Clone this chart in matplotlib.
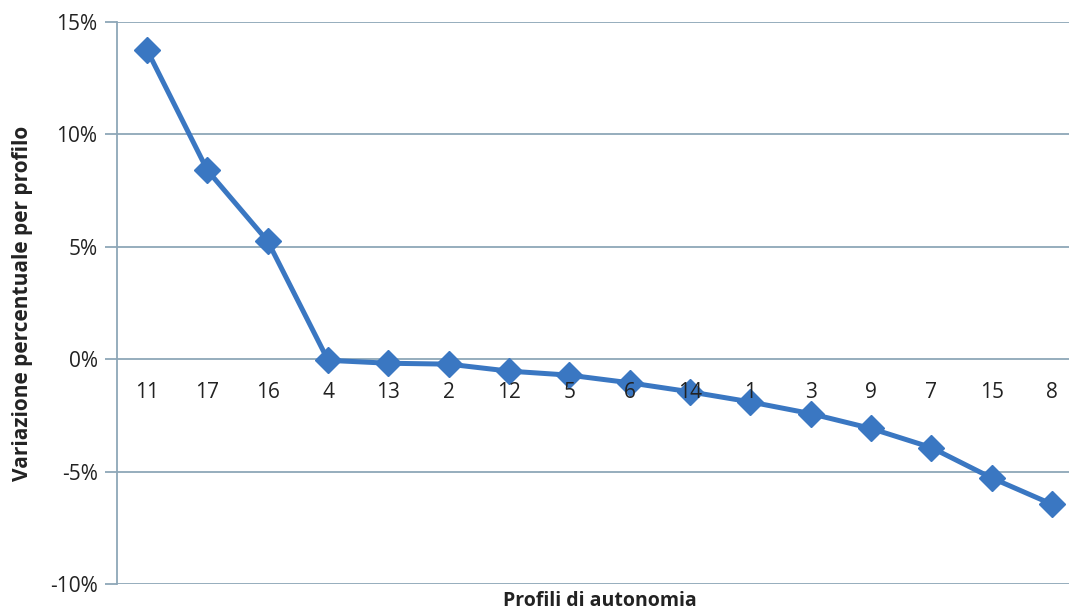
import numpy as np
import matplotlib.pyplot as plt
from matplotlib.ticker import FuncFormatter

# profili ordinati per variazione decrescente
profili = ['11', '17', '16', '4', '13', '2', '12', '5', '6', '14', '1', '3', '9', '7', '15', '8']
variazione = [13.75, 8.4, 5.25, -0.05, -0.18, -0.22, -0.53, -0.71, -1.05, -1.45, -1.9, -2.42, -3.08, -3.93, -5.28, -6.45]
y_ticks = [-10, -5, 0, 5, 10, 15]

plt.rcParams['font.family'] = ['Open Sans', 'DejaVu Sans']
plt.rcParams['axes.unicode_minus'] = False
grid_col = '#8ea7b8'
text_col = '#222222'

fig = plt.figure(figsize=(10.69, 6.11), dpi=100)
ax = fig.add_axes([0.1094, 0.0442, 0.9028, 0.9198])

x = np.arange(len(profili))
ax.plot(x, variazione, color='#3a77c2', lw=3.6, marker='D', ms=13,
        markerfacecolor='#3a77c2', markeredgecolor='#3a77c2', zorder=3)

ax.set_xlim(-0.5, len(profili) - 0.5)
ax.set_ylim(-10, 15)
ax.set_yticks(y_ticks)
ax.yaxis.set_major_formatter(FuncFormatter(lambda v, p: f'{v:.0f}%'))
ax.grid(axis='y', color=grid_col, lw=1.3)
ax.set_axisbelow(True)

for s in ['top', 'right', 'bottom']:
    ax.spines[s].set_visible(False)
ax.spines['left'].set_color(grid_col)
ax.spines['left'].set_linewidth(1.3)

ax.tick_params(axis='y', length=9, width=1.3, color=grid_col, labelsize=15,
               labelcolor=text_col, pad=5)
ax.set_xticks([])

# etichette delle categorie appena sotto la linea dello zero
for xi, lab in zip(x, profili):
    ax.annotate(lab, (xi, 0), xytext=(0, -24), textcoords='offset points',
                ha='center', va='center', fontsize=15, color=text_col, zorder=4)

ax.set_ylabel('Variazione percentuale per profilo', fontsize=15, fontweight='bold',
              color=text_col, labelpad=12)
fig.text(0.561, 0.0, 'Profili di autonomia', ha='center', va='bottom',
         fontsize=14, fontweight='bold', color=text_col)

fig.savefig('out.png', dpi=100)
